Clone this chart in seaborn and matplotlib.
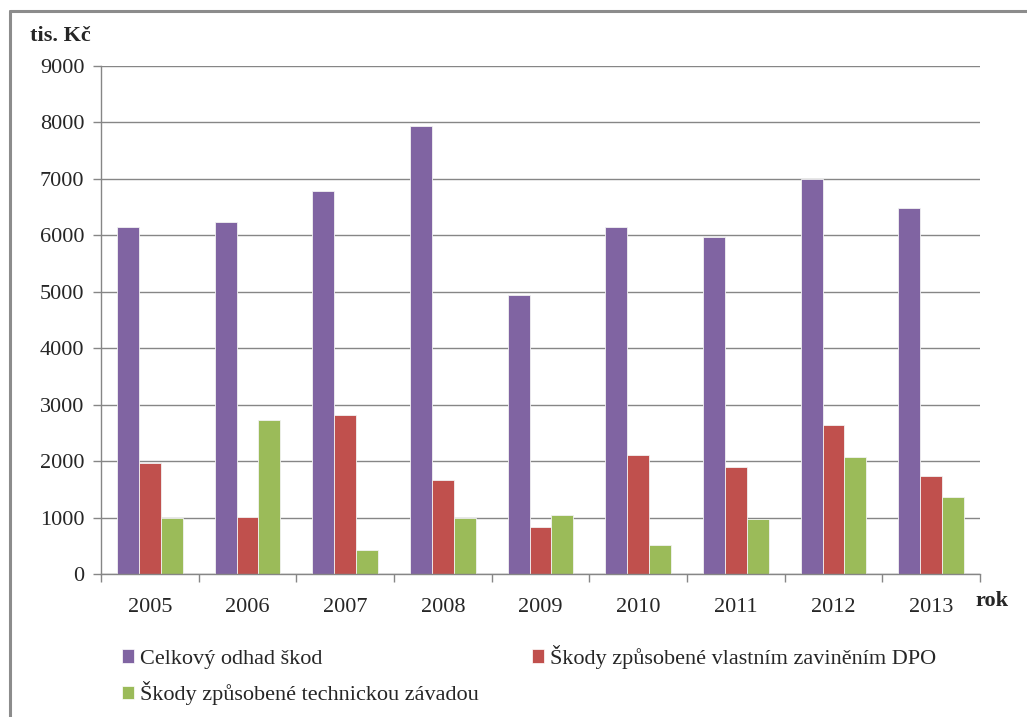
import matplotlib
matplotlib.use("Agg")
import matplotlib.pyplot as plt
import seaborn as sns
import pandas as pd
from matplotlib.patches import Patch
from matplotlib.lines import Line2D
from matplotlib.ticker import FixedLocator

years = ["2005", "2006", "2007", "2008", "2009", "2010", "2011", "2012", "2013"]
celkovy = [6140, 6230, 6790, 7930, 4935, 6140, 5970, 6990, 6480]
vlastni = [1960, 1010, 2820, 1660, 840, 2115, 1890, 2635, 1735]
technicka = [990, 2730, 420, 990, 1045, 515, 980, 2080, 1370]
series_names = ["Celkový odhad škod",
                "Škody způsobené vlastním zaviněním DPO",
                "Škody způsobené technickou závadou"]
colors = ["#8064A2", "#C0504D", "#9BBB59"]

rows = []
for name, vals in zip(series_names, [celkovy, vlastni, technicka]):
    for y, v in zip(years, vals):
        rows.append({"rok": y, "hodnota": v, "serie": name})
df = pd.DataFrame(rows)

sns.set_style("white")
plt.rcParams["font.family"] = ["Liberation Serif", "DejaVu Serif"]

fig = plt.figure(figsize=(10.27, 7.17), dpi=100)
ax = fig.add_axes([101/1027, 1-574/717, (980-101)/1027, (574-66)/717])

sns.barplot(data=df, x="rok", y="hodnota", hue="serie", hue_order=series_names,
            order=years, palette=colors, saturation=1, width=0.675, gap=0, ax=ax,
            edgecolor="#f2f2f2", linewidth=0.6, legend=False, errorbar=None)

grid_c = "#868686"
ax.set_ylim(0, 9000)
ax.set_xlim(-0.5, len(years) - 0.5)
ax.set_yticks(range(0, 9001, 1000))
ax.yaxis.grid(True, color=grid_c, linewidth=1.0)
ax.set_axisbelow(True)
for s in ["top", "right"]:
    ax.spines[s].set_visible(False)
for s in ["left", "bottom"]:
    ax.spines[s].set_color(grid_c)
    ax.spines[s].set_linewidth(1.0)
ax.set_xlabel("")
ax.set_ylabel("")
ax.tick_params(axis="y", which="major", length=6, width=1.0, color=grid_c,
               labelsize=16, pad=6, direction="out", left=True)
ax.tick_params(axis="x", which="major", length=0, labelsize=16, pad=17)
ax.xaxis.set_minor_locator(FixedLocator([i - 0.5 for i in range(len(years) + 1)]))
ax.tick_params(axis="x", which="minor", length=6, width=1.0, color=grid_c,
               direction="out", bottom=True)

fig.text(30/1027, 1-36/717, "tis. Kč", fontsize=16, fontweight="bold",
         ha="left", va="center")
fig.text(975/1027, 1-601/717, "rok", fontsize=16, fontweight="bold",
         ha="left", va="center")

handles = [Patch(facecolor=c, edgecolor="white", linewidth=0.5) for c in colors]
order = [0, 2, 1]
fig.legend([handles[i] for i in order], [series_names[i] for i in order],
           ncol=2, loc="upper left", bbox_to_anchor=(122/1027, 1-645/717),
           frameon=False, fontsize=16, handlelength=0.55, handleheight=0.55,
           handletextpad=0.25, columnspacing=2.4, labelspacing=0.55,
           borderaxespad=0, borderpad=0)

# outer chart-area border: only top and left edges visible in the crop
fig.add_artist(Line2D([10/1027, 1.0], [1-11/717, 1-11/717], transform=fig.transFigure,
                      color="#8c8c8c", linewidth=2.2))
fig.add_artist(Line2D([10/1027, 10/1027], [1-11/717, 0.0], transform=fig.transFigure,
                      color="#8c8c8c", linewidth=2.2))

fig.savefig("out.png", dpi=100)
